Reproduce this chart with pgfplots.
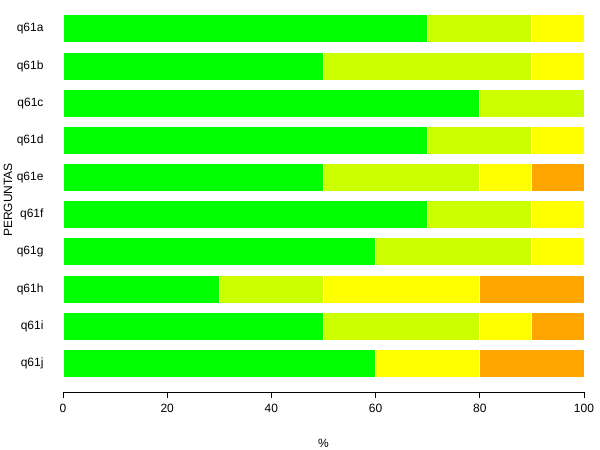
\documentclass[border=0pt]{standalone}
\usepackage{pgfplots}
\pgfplotsset{compat=1.18}
\usepackage{fontspec}
\setmainfont{Liberation Sans}
\definecolor{cgreen}{HTML}{00FF00}
\definecolor{cyg}{HTML}{CCFF00}
\definecolor{cyellow}{HTML}{FFFF00}
\definecolor{corange}{HTML}{FFA500}
\begin{document}
\begin{tikzpicture}[font=\fontsize{12}{14}\selectfont]
\useasboundingbox (0,0) rectangle (600pt,-450pt);
\begin{axis}[
  at={(63pt,-392pt)}, anchor=south west,
  scale only axis, width=521pt, height=381.6pt,
  xmin=0, xmax=100, ymin=0.233, ymax=10.5,
  xbar stacked, bar width=28pt,
  axis x line*=bottom, axis y line*=left,
  y axis line style={draw=none}, ytick style={draw=none},
  x axis line style={line width=1pt, -},
  ytick={1,...,10},
  yticklabels={q61j,q61i,q61h,q61g,q61f,q61e,q61d,q61c,q61b,q61a},
  xtick={0,20,...,100},
  xtick align=outside, major tick length=6pt,
  xtick style={black, line width=1pt},
  /pgf/number format/assume math mode=true,
  xlabel={\%}, ylabel={PERGUNTAS},
  xlabel style={at={(axis description cs:0.5,-0.1336)}, anchor=center},
  ylabel style={at={(axis description cs:-0.1056,0.503)}, anchor=center},
  yticklabel style={xshift=-16pt},
  xticklabel style={yshift=-3pt},
  clip=false,
  every axis plot/.append style={draw=white, line width=1pt},
]
\addplot[fill=cgreen] coordinates {(70,10) (50,9) (80,8) (70,7) (50,6) (70,5) (60,4) (30,3) (50,2) (60,1)};
\addplot[fill=cyg] coordinates {(20,10) (40,9) (20,8) (20,7) (30,6) (20,5) (30,4) (20,3) (30,2) (0,1)};
\addplot[fill=cyellow] coordinates {(10,10) (10,9) (0,8) (10,7) (10,6) (10,5) (10,4) (30,3) (10,2) (20,1)};
\addplot[fill=corange] coordinates {(0,10) (0,9) (0,8) (0,7) (10,6) (0,5) (0,4) (20,3) (10,2) (20,1)};
\end{axis}
\end{tikzpicture}
\end{document}
